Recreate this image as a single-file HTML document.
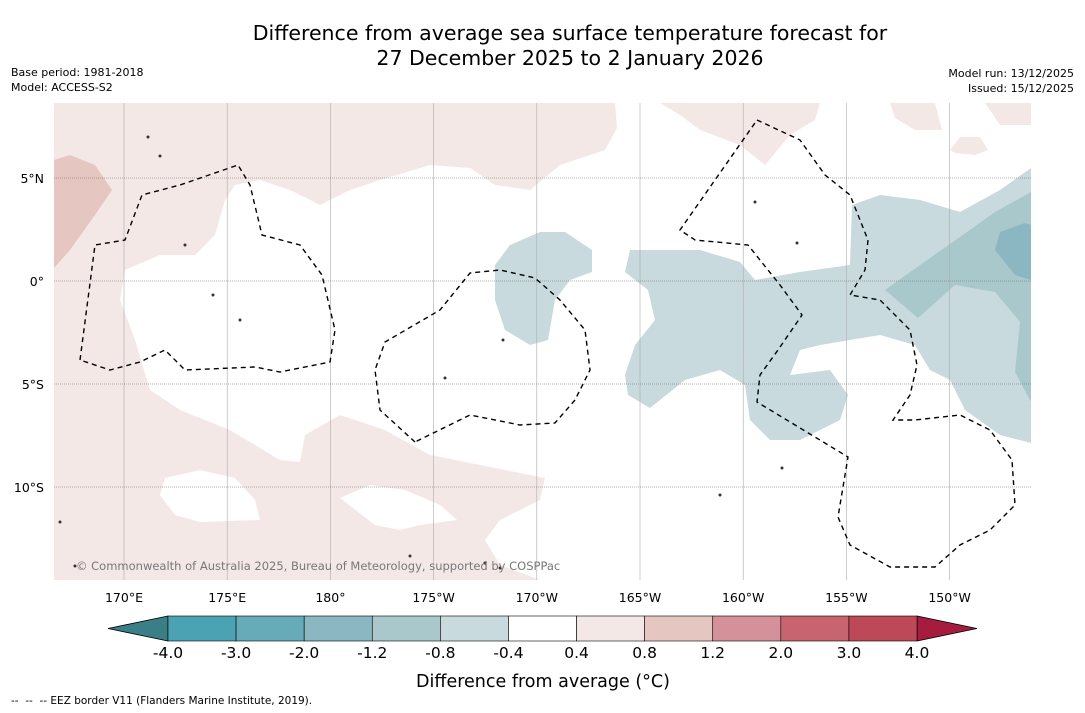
<!DOCTYPE html>
<html><head><meta charset="utf-8"><style>
body{margin:0;background:#fff;font-family:"DejaVu Sans","Liberation Sans",sans-serif;}
#wrap{position:relative;width:1085px;height:713px;overflow:hidden;background:#fff}
.t{position:absolute;white-space:nowrap;color:#000}
</style></head><body>
<div id="wrap">
<div class="t" style="left:0;width:1140px;top:21px;text-align:center;font-size:20.5px;line-height:25px">Difference from average sea surface temperature forecast for<br>27 December 2025 to 2 January 2026</div>
<div class="t" style="left:11px;top:65px;font-size:11px;line-height:15px">Base period: 1981-2018<br>Model: ACCESS-S2</div>
<div class="t" style="right:11px;top:66px;font-size:11px;line-height:15px;text-align:right">Model run: 13/12/2025<br>Issued: 15/12/2025</div>
<svg id="svg" width="1085" height="713" style="position:absolute;left:0;top:0"></svg>
<div class="t" style="left:11px;top:695px;font-size:10.5px">--&nbsp;&nbsp;--&nbsp;&nbsp;-- EEZ border V11 (Flanders Marine Institute, 2019).</div>
</div>
<script>
const lonTicks=["170°E","175°E","180°","175°W","170°W","165°W","160°W","155°W","150°W"];
const lonVals=[170,175,180,185,190,195,200,205,210];
const latTicks=["5°N","0°","5°S","10°S"];
const latVals=[5,0,-5,-10];
const cbBounds=[-4.0,-3.0,-2.0,-1.2,-0.8,-0.4,0.4,0.8,1.2,2.0,3.0,4.0];
const cbLabels=["-4.0","-3.0","-2.0","-1.2","-0.8","-0.4","0.4","0.8","1.2","2.0","3.0","4.0"];
const cbColors=["#4aa2b2","#68abb8","#8ab7c1","#a9c8cc","#c8dadd","#ffffff","#f4e8e7","#e6c6c1","#d4919a","#c76470","#bc4858"];
const ns="http://www.w3.org/2000/svg";
const svg=document.getElementById('svg');
const FF="DejaVu Sans, Liberation Sans, sans-serif";
function X(lon){return 124+(lon-170)*20.64;}
function Y(lat){return 281-lat*20.6;}
function el(tag,a,p){const e=document.createElementNS(ns,tag);for(const k in a)e.setAttribute(k,a[k]);(p||svg).appendChild(e);return e;}
const mx=54,my=103,mw=977,mh=477;
const clip=el('clipPath',{id:'mc'});el('rect',{x:mx,y:my,width:mw,height:mh},clip);
const g=el('g',{'clip-path':'url(#mc)'});


function poly(pts,fill,name){const p=el('polygon',{points:pts,fill:fill},g);return p;}
poly("54,103 615,103 617,128 605,150 560,165 530,190 495,185 470,168 430,165 380,180 350,190 320,205 290,190 260,180 235,185 225,200 215,235 195,255 160,255 125,270 120,300 135,340 150,390 180,410 230,430 280,460 300,462 305,435 340,415 385,430 430,455 480,465 545,478 540,500 500,520 485,540 500,565 540,580 54,580","#f4e8e7","pink-region-west");
poly("165,478 200,470 235,478 255,500 260,520 200,522 175,515 160,495","#fff","white-patch-1");
poly("340,498 370,485 405,490 440,505 457,520 420,525 400,530 375,525","#fff","white-patch-2");
poly("54,160 70,155 95,165 112,190 95,215 70,250 54,268","#e6c6c1","dark-pink-region");
poly("660,103 820,103 815,120 790,135 765,165 740,145 700,130 680,115","#f4e8e7","pink-region-north");
poly("890,103 935,103 942,130 915,130 895,118","#f4e8e7","pink-patch-1");
poly("985,103 1031,103 1031,125 1000,125","#f4e8e7","pink-patch-2");
poly("950,150 960,137 980,137 988,150 975,155 955,153","#f4e8e7","pink-patch-3");
poly("495,265 510,245 540,232 565,232 592,250 592,272 570,280 555,300 548,340 530,345 505,330 495,300","#c8dadd","blue-region-west");
poly("630,250 700,250 740,262 755,280 800,272 850,265 852,205 880,195 920,200 960,212 1000,190 1031,168 1031,443 1000,435 965,410 950,380 930,370 915,345 880,335 850,340 820,345 800,350 790,375 830,370 848,395 840,420 800,440 770,440 750,420 745,385 720,370 685,380 650,408 628,395 625,375 635,345 655,320 648,290 625,272","#c8dadd","blue-region-east");
poly("885,290 930,258 960,237 995,212 1031,192 1031,402 1015,372 1020,322 995,292 955,285 918,318","#a9c8cc","blue-region-darker");
poly("995,250 1000,232 1025,223 1031,225 1031,280 1015,275","#8ab7c1","blue-region-darkest");
lonVals.forEach(v=>{const l=el('line',{x1:X(v),x2:X(v),y1:my,y2:my+mh,stroke:'#aaa','stroke-width':0.6},g);});
latVals.forEach(v=>{const l=el('line',{x1:mx,x2:mx+mw,y1:Y(v),y2:Y(v),stroke:'#666','stroke-width':0.5,'stroke-dasharray':'1,1'},g);});
const eez=["80,360 95,245 125,240 142,195 180,185 238,165 250,185 262,235 300,245 322,275 335,330 330,362 280,372 255,367 185,370 165,350 140,362 110,370 80,360",
"415,442 380,410 375,370 385,342 440,310 470,273 500,270 535,278 560,300 585,330 590,370 575,400 555,423 520,425 470,415 415,442",
"757,120 800,140 825,175 850,195 868,240 865,270 850,295 880,300 910,330 917,365 910,395 893,420 915,420 960,415 990,430 1012,460 1015,505 990,530 960,545 935,567 890,567 850,545 838,517 848,457 757,402 760,375 778,350 802,315 780,285 748,245 695,240 680,230 757,120"];
eez.forEach(p=>{const e=el('polyline',{points:p,fill:'none',stroke:'#000','stroke-width':1.4,'stroke-dasharray':'5,4'},g);});
[[148,137],[160,156],[185,245],[213,295],[240,320],[445,378],[503,340],[755,202],[797,243],[782,468],[720,495],[60,522],[75,566],[500,568],[485,563],[410,556]].forEach(d=>{const c=el('circle',{cx:d[0],cy:d[1],r:1.5,fill:'#333'},g);});
const cp=el('text',{x:76,y:570,'font-size':11.5,fill:'#777','font-family':FF},g);cp.textContent="© Commonwealth of Australia 2025, Bureau of Meteorology, supported by COSPPac";

lonVals.forEach((v,i)=>{const t=el('text',{x:X(v),y:602,'font-size':12.5,'text-anchor':'middle','font-family':FF});t.textContent=lonTicks[i];});
latVals.forEach((v,i)=>{const t=el('text',{x:44,y:Y(v)+5,'font-size':12.5,'text-anchor':'end','font-family':FF});t.textContent=latTicks[i];});
const cbx0=168,cbx1=917,cby=616,cbh=25,bw=(cbx1-cbx0)/cbColors.length;
const lt=el('polygon',{points:`108,${cby+cbh/2} ${cbx0},${cby} ${cbx0},${cby+cbh}`,fill:'#3a7f87',stroke:'#000','stroke-width':0.8});
const rt=el('polygon',{points:`977,${cby+cbh/2} ${cbx1},${cby} ${cbx1},${cby+cbh}`,fill:'#a51c3e',stroke:'#000','stroke-width':0.8});
cbColors.forEach((c,i)=>{const r=el('rect',{x:cbx0+i*bw,y:cby,width:bw,height:cbh,fill:c,stroke:'#000','stroke-width':0.6});});
cbBounds.forEach((v,i)=>{const t=el('text',{x:cbx0+i*bw,y:658,'font-size':15.5,'text-anchor':'middle','font-family':FF});t.textContent=cbLabels[i];});
const ct=el('text',{x:543,y:687,'font-size':17.5,'text-anchor':'middle','font-family':FF});ct.textContent="Difference from average (°C)";

</script>
</body></html>
